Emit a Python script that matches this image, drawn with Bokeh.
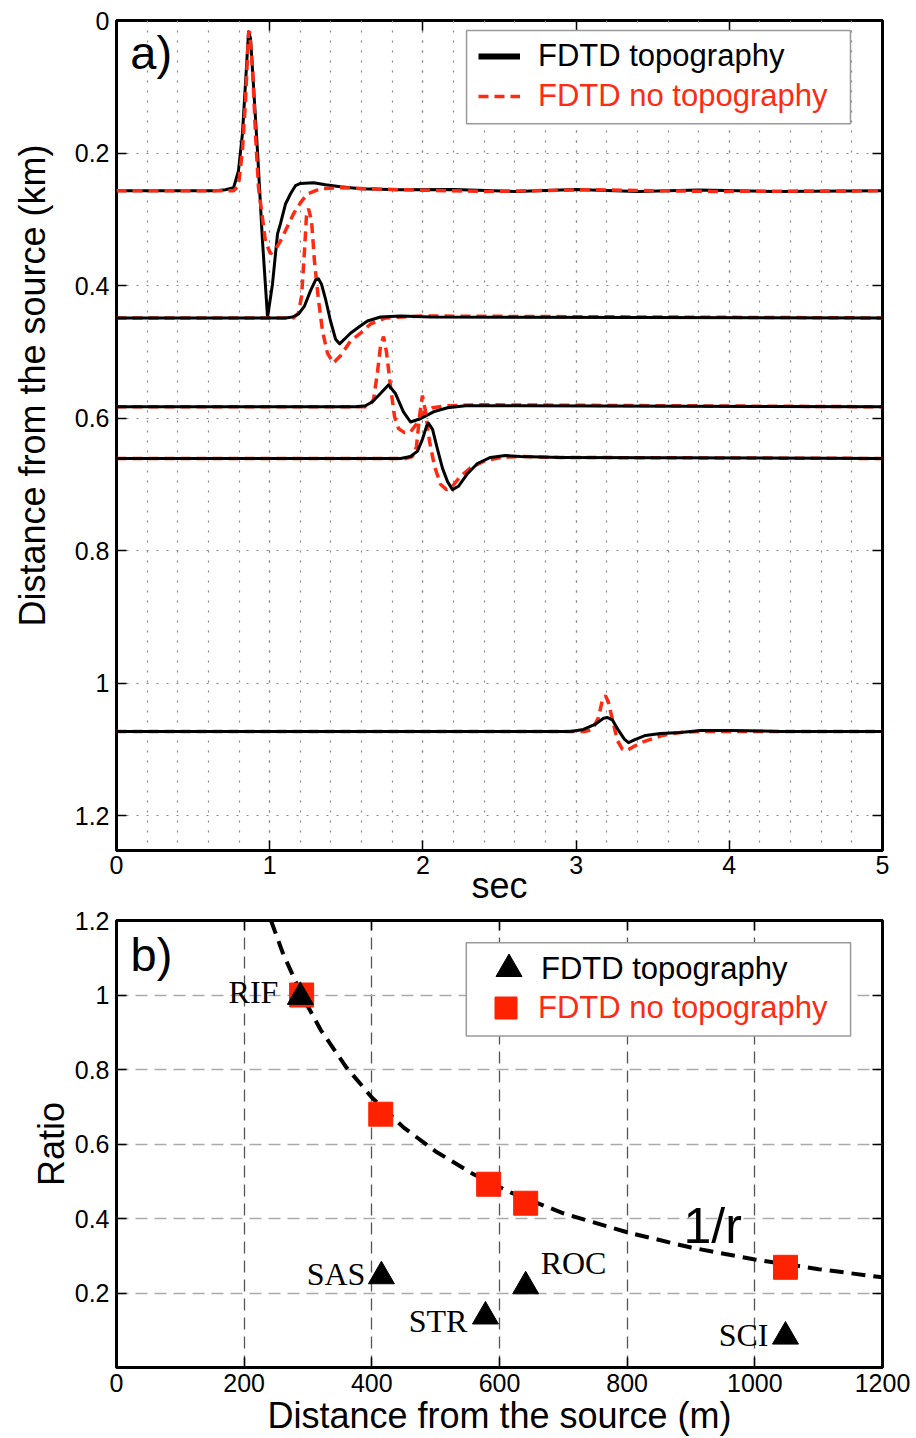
from bokeh.plotting import figure
from bokeh.layouts import column
from bokeh.models import (Range1d, FixedTicker, CustomJSTickFormatter, LinearAxis,
                          Legend, LegendItem, BoxAnnotation, Label, ColumnDataSource)
from bokeh.core.properties import value
from bokeh.embed import file_html
from bokeh.resources import INLINE

RED = "#ff2a12"
SQ_RED = "#ff2200"
SANS = "Liberation Sans"
SERIF = "Liberation Serif"

# ---------------- Panel a data (time in s, amplitude in km, + = toward source) ----------------
a_xticks = [0, 1, 2, 3, 4, 5]
a_xminor = [0, 0.2, 0.4, 0.6, 0.8, 1, 1.2, 1.4, 1.6, 1.8, 2, 2.2, 2.4, 2.6, 2.8, 3,
            3.2, 3.4, 3.6, 3.8, 4, 4.2, 4.4, 4.6, 4.8, 5]
a_yticks = [0, 0.2, 0.4, 0.6, 0.8, 1.0, 1.2]

baselines_km = [0.257, 0.449, 0.583, 0.661, 1.073]

tr1_topo_t = [0.0, 0.646, 0.711, 0.764, 0.796, 0.822, 0.842, 0.862, 0.875, 0.894, 0.920, 0.953,
              0.986, 1.018, 1.051, 1.070, 1.103, 1.136, 1.168, 1.201, 1.286, 1.364, 1.462, 1.593,
              1.854, 2.2, 2.6, 3.0, 3.4, 3.8, 4.3, 5.0]
tr1_topo_amp = [0.0, 0.0, 0.0015, 0.0045, 0.030, 0.086, 0.162, 0.240, 0.230, 0.159, 0.061, -0.076,
                -0.191, -0.141, -0.065, -0.050, -0.020, -0.0045, 0.0076, 0.011, 0.012, 0.009, 0.006,
                0.003, 0.0015, 0.002, -0.001, 0.002, -0.001, 0.001, -0.001, 0.0]
tr1_flat_t = [0.0, 0.711, 0.764, 0.796, 0.822, 0.842, 0.862, 0.868, 0.888, 0.907, 0.927, 0.953,
              0.972, 1.005, 1.038, 1.070, 1.116, 1.155, 1.201, 1.247, 1.332, 1.462, 1.854, 2.4,
              3.1, 3.9, 5.0]
tr1_flat_amp = [0.0, 0.0, 0.0, 0.0076, 0.061, 0.136, 0.238, 0.241, 0.186, 0.086, 0.0045, -0.041,
                -0.076, -0.095, -0.088, -0.076, -0.054, -0.035, -0.018, -0.0045, 0.003, 0.0045,
                0.0015, -0.001, 0.0015, -0.001, 0.0]

tr2_topo_t = [0.0, 1.103, 1.149, 1.188, 1.227, 1.266, 1.299, 1.319, 1.338, 1.364, 1.397, 1.430,
              1.456, 1.488, 1.527, 1.580, 1.638, 1.723, 1.854, 2.050, 5.0]
tr2_topo_amp = [0.0, 0.0, 0.0015, 0.006, 0.018, 0.041, 0.057, 0.059, 0.051, 0.029, -0.0045, -0.032,
                -0.039, -0.032, -0.023, -0.014, -0.0045, 0.0015, 0.003, 0.0015, 0.0]
tr2_flat_t = [0.0, 1.155, 1.188, 1.208, 1.227, 1.240, 1.253, 1.273, 1.292, 1.319, 1.345, 1.377,
              1.416, 1.462, 1.527, 1.593, 1.658, 1.756, 1.984, 5.0]
tr2_flat_amp = [0.0, 0.0, 0.0076, 0.033, 0.101, 0.154, 0.165, 0.147, 0.086, 0.026, -0.020, -0.053,
                -0.068, -0.057, -0.035, -0.023, -0.009, 0.0, 0.003, 0.0]

tr3_topo_t = [0.0, 1.560, 1.625, 1.671, 1.723, 1.775, 1.821, 1.873, 1.919, 1.984, 2.069, 2.161,
              2.278, 2.637, 5.0]
tr3_topo_amp = [0.0, 0.0, 0.0015, 0.0076, 0.020, 0.033, 0.020, -0.0076, -0.023, -0.018, -0.0076,
                -0.0015, 0.0015, 0.0015, 0.0]
tr3_flat_t = [0.0, 1.645, 1.678, 1.704, 1.723, 1.743, 1.762, 1.789, 1.815, 1.841, 1.880, 1.919,
              1.958, 2.004, 2.063, 2.148, 2.376, 5.0]
tr3_flat_amp = [0.0, 0.0, 0.011, 0.053, 0.091, 0.106, 0.083, 0.030, -0.015, -0.033, -0.039, -0.038,
                -0.026, -0.009, -0.0015, 0.0015, 0.003, 0.0]

tr4_topo_t = [0.0, 1.854, 1.919, 1.965, 1.997, 2.023, 2.037, 2.063, 2.095, 2.128, 2.161, 2.193,
              2.232, 2.291, 2.356, 2.441, 2.539, 2.637, 2.898, 5.0]
tr4_topo_amp = [0.0, 0.0, 0.003, 0.011, 0.029, 0.048, 0.053, 0.044, 0.014, -0.015, -0.035, -0.047,
                -0.042, -0.023, -0.0076, 0.0015, 0.0045, 0.003, 0.0015, 0.0]
tr4_flat_t = [0.0, 1.886, 1.932, 1.958, 1.978, 1.997, 2.017, 2.043, 2.076, 2.115, 2.154, 2.193,
              2.245, 2.311, 2.409, 2.507, 2.637, 2.898, 5.0]
tr4_flat_amp = [0.0, 0.0, 0.003, 0.018, 0.064, 0.095, 0.071, 0.026, -0.012, -0.039, -0.047, -0.042,
                -0.027, -0.014, -0.003, 0.0015, 0.003, 0.0015, 0.0]

tr5_topo_t = [0.0, 2.963, 3.048, 3.127, 3.179, 3.205, 3.238, 3.277, 3.316, 3.342, 3.388, 3.453,
              3.551, 3.681, 3.812, 4.008, 4.334, 5.0]
tr5_topo_amp = [0.0, 0.0, 0.003, 0.011, 0.020, 0.021, 0.017, 0.0015, -0.012, -0.017, -0.012, -0.006,
                -0.003, -0.0015, 0.0015, 0.0015, 0.0, 0.0]
tr5_flat_t = [0.0, 3.061, 3.107, 3.146, 3.172, 3.192, 3.211, 3.238, 3.270, 3.303, 3.329, 3.368,
              3.420, 3.486, 3.564, 3.681, 3.812, 5.0]
tr5_flat_amp = [0.0, 0.0, 0.003, 0.021, 0.048, 0.054, 0.044, 0.017, -0.014, -0.027, -0.029, -0.024,
                -0.017, -0.012, -0.006, -0.0015, 0.0, 0.0]

# ---------------- Panel b data ----------------
b_xticks = [0, 200, 400, 600, 800, 1000, 1200]
b_yticks = [0.2, 0.4, 0.6, 0.8, 1.0, 1.2]

stations = ["RIF", "SAS", "STR", "ROC", "SCI"]
topo_dist_m = [288, 415, 578, 641, 1048]
topo_ratio = [0.995, 0.245, 0.137, 0.218, 0.083]
flat_dist_m = [290, 414, 583, 641, 1048]
flat_ratio = [1.0, 0.68, 0.492, 0.441, 0.269]

inv_r_dist_m = [242, 260, 290, 320, 360, 400, 450, 500, 560, 620, 700, 800, 900, 1000, 1100, 1200]
inv_r_ratio = [1.2, 1.115, 1.0, 0.906, 0.806, 0.725, 0.644, 0.58, 0.518, 0.468, 0.414, 0.363,
               0.322, 0.29, 0.264, 0.242]

# station label layout (pixels)
label_dx = [-22, -16, -18, 15, -17]
label_dy = [-5, -2, 5, -23, -2]
label_align = ["right", "right", "right", "left", "right"]


def fmt():
    return CustomJSTickFormatter(code="return String(Math.round(tick*10)/10);")


def blank_fmt():
    return CustomJSTickFormatter(code="return '';")


def style_axis(ax):
    ax.axis_line_color = None
    ax.major_tick_in = 10
    ax.major_tick_out = 0
    ax.major_tick_line_color = "black"
    ax.major_tick_line_width = 1.5
    ax.minor_tick_in = 0
    ax.minor_tick_out = 0
    ax.major_label_text_font = SANS
    ax.major_label_text_font_size = "25px"
    ax.major_label_text_color = "black"
    ax.axis_label_text_font = SANS
    ax.axis_label_text_font_size = "36px"
    ax.axis_label_text_font_style = "normal"
    ax.axis_label_text_color = "black"


def add_frame_ticks(p, xt, yt):
    top = LinearAxis(ticker=xt, formatter=blank_fmt())
    right = LinearAxis(ticker=yt, formatter=blank_fmt())
    for ax in (top, right):
        style_axis(ax)
        ax.major_label_text_font_size = "0px"
        ax.major_label_standoff = 0
    p.add_layout(top, "above")
    p.add_layout(right, "right")


def make_legend(renderer, text, color, loc, gw, gh, standoff):
    return Legend(items=[LegendItem(label=text, renderers=[renderer])], location=loc,
                  padding=0, margin=0, spacing=0, border_line_color=None,
                  background_fill_alpha=0, glyph_width=gw, glyph_height=gh, label_height=36,
                  label_standoff=standoff, label_text_font=SANS, label_text_font_size="31px",
                  label_text_color=color)


# ================= Panel a =================
pa = figure(width=916, height=908, x_range=Range1d(0, 5), y_range=Range1d(1.2527, 0),
            output_backend="svg", toolbar_location=None,
            min_border_left=116, min_border_right=34, min_border_top=20, min_border_bottom=0,
            background_fill_color="white", border_fill_color="white")
pa.outline_line_color = "black"
pa.outline_line_width = 3
pa.outline_line_alpha = 1

xt_a = FixedTicker(ticks=a_xticks, minor_ticks=a_xminor)
yt_a = FixedTicker(ticks=a_yticks)
pa.xaxis.ticker = xt_a
pa.yaxis.ticker = yt_a
pa.xaxis.formatter = fmt()
pa.yaxis.formatter = fmt()
for ax in pa.xaxis + pa.yaxis:
    style_axis(ax)
pa.xaxis.major_label_standoff = 5
pa.xaxis.axis_label = "sec"
pa.xaxis.axis_label_standoff = -12
pa.yaxis.major_label_standoff = 7
# leading no-break spaces lift the title, as in the original where it sits above centre
pa.yaxis.axis_label = "\u00a0" * 10 + "Distance from the source (km)"
pa.yaxis.axis_label_standoff = 19

pa.xgrid.ticker = xt_a
pa.ygrid.ticker = yt_a
pa.xgrid.grid_line_color = "#888888"
pa.xgrid.grid_line_dash = "2 8"
pa.xgrid.grid_line_width = 1.2
pa.xgrid.minor_grid_line_color = "#888888"
pa.xgrid.minor_grid_line_dash = "2 8"
pa.xgrid.minor_grid_line_width = 1.2
pa.ygrid.grid_line_color = "#888888"
pa.ygrid.grid_line_dash = "2 8"
pa.ygrid.grid_line_width = 1.2

add_frame_ticks(pa, xt_a, yt_a)

traces = [
    (tr1_topo_t, tr1_topo_amp, tr1_flat_t, tr1_flat_amp),
    (tr2_topo_t, tr2_topo_amp, tr2_flat_t, tr2_flat_amp),
    (tr3_topo_t, tr3_topo_amp, tr3_flat_t, tr3_flat_amp),
    (tr4_topo_t, tr4_topo_amp, tr4_flat_t, tr4_flat_amp),
    (tr5_topo_t, tr5_topo_amp, tr5_flat_t, tr5_flat_amp),
]

for i, (base, (tt, ta, ft, fa)) in enumerate(zip(baselines_km, traces)):
    topo_y = [base - a for a in ta]
    flat_y = [base - a for a in fa]
    order = ["topo", "flat"] if i == 0 else ["flat", "topo"]
    for kind in order:
        if kind == "topo":
            pa.line(tt, topo_y, line_color="black", line_width=3, line_join="round")
        else:
            pa.line(ft, flat_y, line_color=RED, line_width=3.5, line_dash="10 6")

# legend frame + legends
pa.add_layout(BoxAnnotation(left=2.285, right=4.791, top=0.0151, bottom=0.156,
                            fill_color="white", fill_alpha=1,
                            line_color="#9a9a9a", line_width=1.5, line_alpha=1))
nan = float("nan")
leg_topo = pa.line([nan], [nan], line_color="black", line_width=6)
leg_flat = pa.line([nan], [nan], line_color=RED, line_width=3.5, line_dash="10 6")
pa.add_layout(make_legend(leg_topo, "FDTD topography", "black", (362, 776), 42, 36, 18))
pa.add_layout(make_legend(leg_flat, "FDTD no topography", RED, (362, 736), 42, 36, 18))

pa.add_layout(Label(x=0.09, y=0.048, text="a)", text_font=SANS, text_font_size="47px",
                    text_align="left", text_baseline="middle", text_color="black"))

# ================= Panel b =================
pb = figure(width=916, height=530, x_range=Range1d(0, 1200), y_range=Range1d(0, 1.2),
            output_backend="svg", toolbar_location=None,
            min_border_left=116, min_border_right=34, min_border_top=12, min_border_bottom=0,
            background_fill_color="white", border_fill_color="white")
pb.outline_line_color = "black"
pb.outline_line_width = 3
pb.outline_line_alpha = 1

xt_b = FixedTicker(ticks=b_xticks)
yt_b = FixedTicker(ticks=b_yticks)
pb.xaxis.ticker = xt_b
pb.yaxis.ticker = yt_b
pb.xaxis.formatter = fmt()
pb.yaxis.formatter = fmt()
for ax in pb.xaxis + pb.yaxis:
    style_axis(ax)
pb.xaxis.major_label_standoff = 6
pb.xaxis.axis_label = "Distance from the source (m)"
pb.xaxis.axis_label_standoff = 0
pb.yaxis.major_label_standoff = 7
pb.yaxis.axis_label = "Ratio"
pb.yaxis.axis_label_standoff = 0

pb.xgrid.ticker = xt_b
pb.ygrid.ticker = yt_b
pb.xgrid.grid_line_color = "#555555"
pb.xgrid.grid_line_dash = "12 7"
pb.xgrid.grid_line_width = 1.3
pb.ygrid.grid_line_color = "#aaaaaa"
pb.ygrid.grid_line_dash = "12 7"
pb.ygrid.grid_line_width = 1.6

add_frame_ticks(pb, xt_b, yt_b)

pb.line(inv_r_dist_m, inv_r_ratio, line_color="black", line_width=4, line_dash="14 8")
sq = pb.scatter(flat_dist_m, flat_ratio, marker="square", size=24, fill_color=SQ_RED,
                line_color=SQ_RED)
tri = pb.scatter(topo_dist_m, topo_ratio, marker="triangle", size=26, fill_color="black",
                 line_color="black")

lbl_src = ColumnDataSource(dict(x=topo_dist_m, y=topo_ratio, name=stations,
                                dx=label_dx, dy=label_dy, align=label_align))
pb.text(x="x", y="y", text="name", x_offset="dx", y_offset="dy", text_align="align",
        text_baseline="middle", text_font=value(SERIF), text_font_size="32px",
        text_color="black", source=lbl_src)

pb.add_layout(Label(x=934, y=0.379, text="1/r", text_font=SANS, text_font_size="50px",
                    text_align="center", text_baseline="middle", text_color="black"))
pb.add_layout(Label(x=22, y=1.110, text="b)", text_font=SANS, text_font_size="47px",
                    text_align="left", text_baseline="middle", text_color="black"))

pb.add_layout(BoxAnnotation(left=548, right=1150, top=1.140, bottom=0.890,
                            fill_color="white", fill_alpha=1,
                            line_color="#9a9a9a", line_width=1.5, line_alpha=1))
# legend marker size in Bokeh = 0.4 * min(glyph box) -> boxes sized for the markers
pb.add_layout(make_legend(tri, "FDTD topography", "black", (360, 366), 65, 65, 0))
pb.add_layout(make_legend(sq, "FDTD no topography", RED, (362, 332), 55, 55, 5))

layout = column(pa, pb)
open("out.html", "w").write(file_html(layout, INLINE))
